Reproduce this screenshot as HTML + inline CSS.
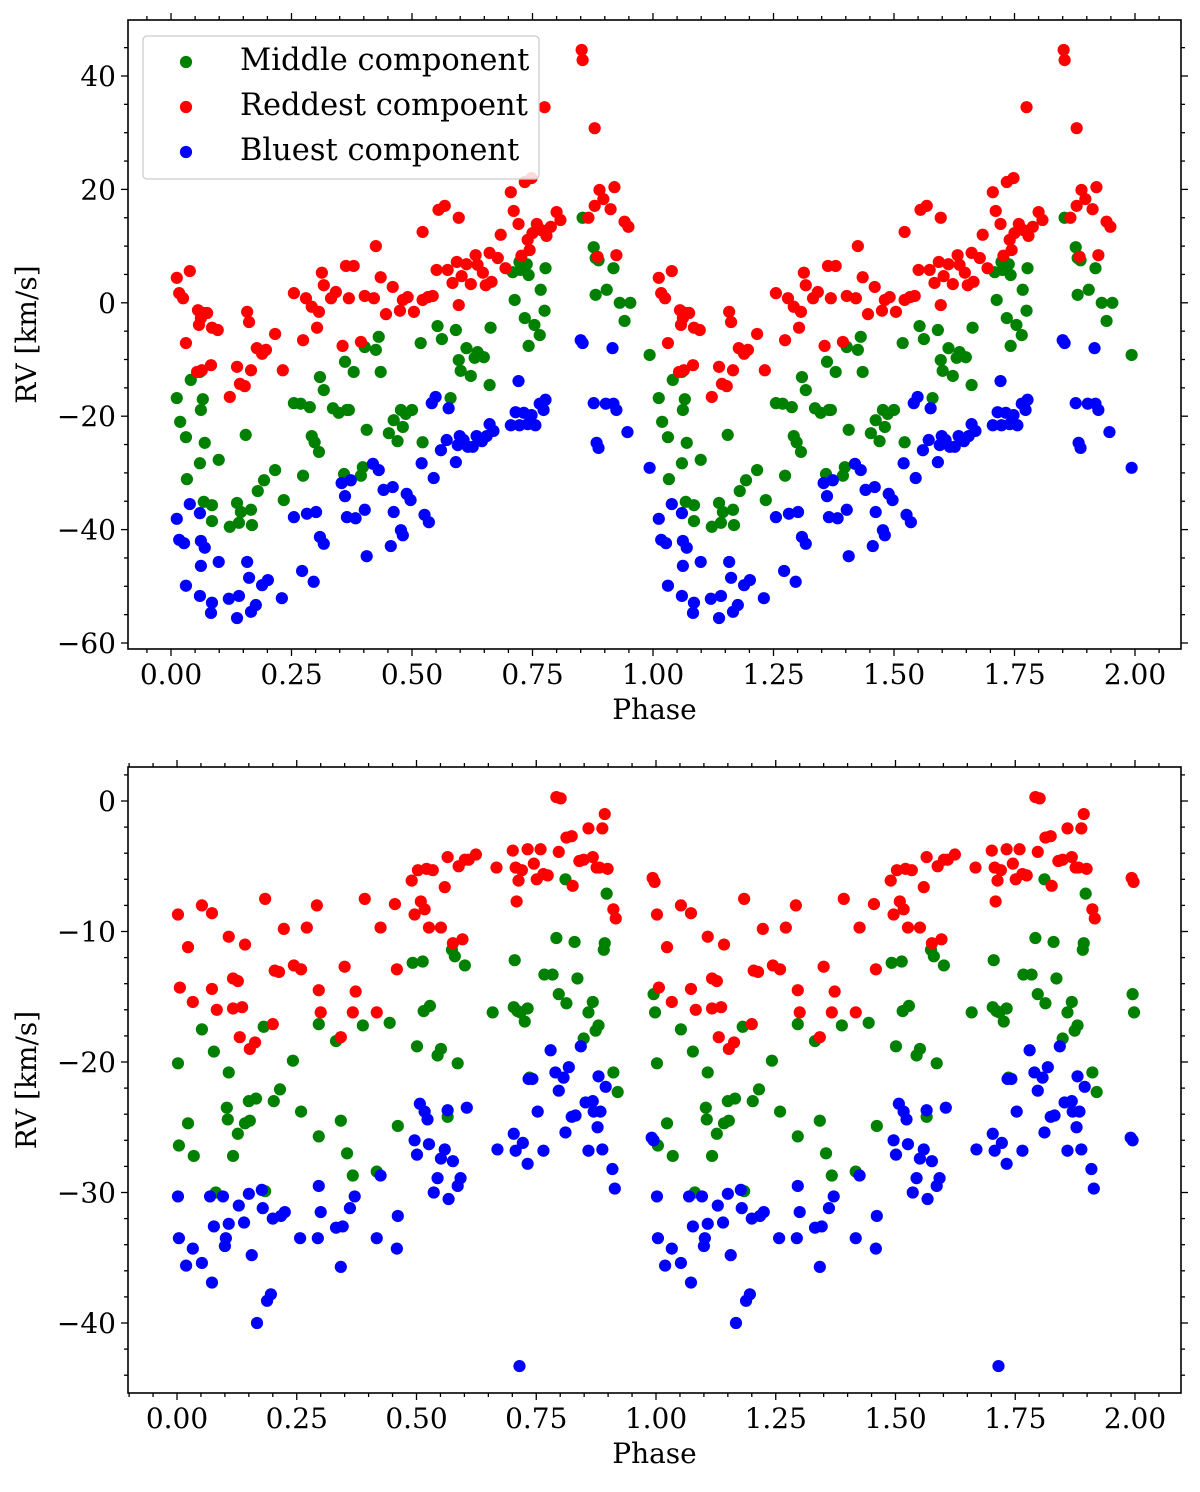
<!DOCTYPE html>
<html><head><meta charset="utf-8"><style>
body{margin:0;background:#fff;}
svg text{font-family:"DejaVu Serif","Liberation Serif",serif;fill:#000;}
</style></head><body>
<svg id="chart" width="1200" height="1487" viewBox="0 0 1200 1487" xmlns="http://www.w3.org/2000/svg">
<g id="top"></g>
<g id="bot"></g>
</svg>
<script>
// ---- Top panel data (phase 0-1, repeated at phase+1) ----
const topRed = [[0.012,4.4],[0.017,1.7],[0.025,0.8],[0.039,5.6],[0.031,-7.1],[0.056,-1.3],[0.062,-2.7],[0.068,-1.8],[0.058,-3.9],[0.075,-1.8],[0.054,-12.2],[0.064,-11.9],[0.083,-11.0],[0.085,-4.4],[0.097,-4.8],[0.122,-16.6],[0.137,-11.3],[0.143,-14.3],[0.158,-1.6],[0.162,-3.4],[0.153,-14.7],[0.166,-11.9],[0.178,-8.0],[0.189,-9.0],[0.197,-8.3],[0.216,-5.5],[0.232,-11.9],[0.255,1.7],[0.274,-6.6],[0.28,0.8],[0.292,-0.7],[0.303,-4.4],[0.307,-1.6],[0.313,5.3],[0.317,3.1],[0.332,0.8],[0.342,1.9],[0.356,-7.6],[0.363,6.5],[0.369,0.8],[0.379,6.5],[0.394,-6.9],[0.402,1.2],[0.421,0.8],[0.425,10.0],[0.435,4.5],[0.446,-2.0],[0.46,2.8],[0.475,-1.4],[0.481,0.5],[0.491,1.0],[0.504,-1.6],[0.522,12.5],[0.522,0.5],[0.533,1.0],[0.543,1.2],[0.551,5.8],[0.555,16.4],[0.568,17.1],[0.574,5.8],[0.584,3.5],[0.597,15.0],[0.593,7.2],[0.597,-0.4],[0.603,4.7],[0.613,6.8],[0.622,3.3],[0.632,8.4],[0.636,6.7],[0.647,5.3],[0.653,3.1],[0.661,8.8],[0.665,3.7],[0.678,7.9],[0.684,12.0],[0.694,6.1],[0.705,19.5],[0.711,16.2],[0.721,13.9],[0.727,8.3],[0.734,21.3],[0.74,11.1],[0.748,22.0],[0.744,9.3],[0.75,12.3],[0.759,13.9],[0.769,12.8],[0.775,34.5],[0.779,11.8],[0.788,13.4],[0.8,16.0],[0.808,14.6],[0.852,44.6],[0.854,42.8],[0.879,30.8],[0.866,15.0],[0.879,17.1],[0.889,19.9],[0.897,18.3],[0.912,16.5],[0.885,8.1],[0.92,20.4],[0.924,8.4],[0.941,14.3],[0.949,13.4]];
const topGreen = [[0.012,-16.8],[0.019,-21.0],[0.031,-23.7],[0.033,-31.1],[0.041,-13.6],[0.06,-12.2],[0.062,-18.9],[0.066,-17.0],[0.06,-28.3],[0.068,-35.1],[0.07,-24.7],[0.085,-35.7],[0.085,-38.5],[0.099,-27.7],[0.122,-39.5],[0.137,-35.3],[0.141,-38.8],[0.155,-23.3],[0.145,-36.9],[0.166,-36.5],[0.168,-39.2],[0.18,-33.2],[0.193,-31.3],[0.216,-29.5],[0.234,-34.8],[0.255,-17.7],[0.269,-17.8],[0.274,-30.5],[0.288,-18.4],[0.292,-23.5],[0.298,-24.6],[0.307,-26.3],[0.309,-13.1],[0.317,-15.4],[0.336,-18.6],[0.348,-19.4],[0.359,-30.2],[0.361,-10.4],[0.365,-18.9],[0.369,-18.9],[0.379,-12.2],[0.394,-30.5],[0.398,-29.0],[0.402,-7.8],[0.406,-22.4],[0.425,-8.3],[0.431,-6.0],[0.435,-12.2],[0.452,-23.0],[0.462,-20.7],[0.47,-24.4],[0.477,-18.9],[0.481,-21.9],[0.487,-19.6],[0.5,-18.9],[0.518,-7.1],[0.522,-24.6],[0.553,-4.1],[0.562,-6.4],[0.58,-16.8],[0.591,-4.8],[0.597,-10.1],[0.601,-12.0],[0.613,-8.0],[0.622,-12.9],[0.63,-9.7],[0.636,-8.7],[0.649,-9.6],[0.663,-4.4],[0.661,-14.5],[0.709,5.4],[0.713,0.5],[0.723,7.2],[0.725,5.8],[0.734,-2.7],[0.738,6.8],[0.742,4.9],[0.742,-7.6],[0.754,-3.9],[0.765,-5.7],[0.767,2.3],[0.777,6.1],[0.775,-1.4],[0.854,15.0],[0.877,9.8],[0.881,7.9],[0.881,1.4],[0.887,7.5],[0.904,2.3],[0.918,6.1],[0.931,0.0],[0.941,-3.2],[0.953,0.0],[0.993,-9.2]];
const topBlue = [[0.012,-38.1],[0.017,-41.8],[0.027,-42.4],[0.031,-49.9],[0.039,-35.5],[0.06,-37.1],[0.062,-42.0],[0.07,-43.2],[0.062,-46.4],[0.06,-51.7],[0.085,-52.9],[0.083,-54.7],[0.099,-45.7],[0.12,-52.2],[0.137,-55.6],[0.141,-51.7],[0.158,-45.7],[0.162,-48.5],[0.166,-54.5],[0.176,-53.3],[0.189,-49.8],[0.201,-48.9],[0.23,-52.1],[0.255,-37.8],[0.272,-47.3],[0.282,-37.2],[0.296,-49.2],[0.301,-36.9],[0.309,-41.3],[0.317,-42.5],[0.354,-31.8],[0.361,-34.1],[0.365,-37.8],[0.373,-31.3],[0.383,-38.0],[0.402,-36.5],[0.406,-44.7],[0.419,-28.4],[0.431,-29.5],[0.441,-33.0],[0.456,-42.9],[0.46,-32.5],[0.462,-36.9],[0.477,-40.1],[0.481,-41.0],[0.489,-33.7],[0.497,-34.8],[0.52,-28.3],[0.526,-37.4],[0.535,-38.7],[0.541,-17.7],[0.545,-30.9],[0.549,-16.6],[0.56,-26.0],[0.572,-24.2],[0.576,-18.6],[0.591,-28.1],[0.595,-25.1],[0.599,-23.5],[0.607,-24.2],[0.616,-25.4],[0.626,-25.4],[0.634,-23.5],[0.645,-24.4],[0.655,-23.5],[0.661,-21.4],[0.669,-22.6],[0.705,-21.6],[0.715,-19.3],[0.721,-13.8],[0.723,-21.6],[0.732,-19.4],[0.74,-21.4],[0.748,-19.8],[0.756,-21.6],[0.765,-17.8],[0.773,-18.9],[0.777,-17.1],[0.85,-6.6],[0.854,-7.1],[0.877,-17.7],[0.883,-24.7],[0.887,-25.6],[0.902,-17.8],[0.916,-8.0],[0.918,-17.8],[0.924,-18.9],[0.947,-22.8],[0.993,-29.1]];

// ---- Bottom panel data ----
const botRed = [[0.002,-8.7],[0.006,-14.3],[0.023,-11.2],[0.033,-15.4],[0.052,-8.0],[0.073,-8.6],[0.073,-14.4],[0.083,-16.0],[0.108,-10.4],[0.117,-13.6],[0.117,-15.9],[0.127,-13.8],[0.136,-15.8],[0.131,-18.1],[0.142,-11.0],[0.152,-19.0],[0.163,-18.5],[0.184,-7.5],[0.2,-17.1],[0.204,-13.0],[0.213,-13.1],[0.223,-9.8],[0.244,-12.6],[0.259,-12.9],[0.271,-9.7],[0.292,-8.0],[0.296,-14.5],[0.3,-16.2],[0.342,-18.1],[0.35,-12.7],[0.367,-16.2],[0.373,-14.6],[0.392,-7.5],[0.417,-16.2],[0.425,-9.7],[0.455,-7.9],[0.459,-12.9],[0.49,-6.1],[0.496,-8.7],[0.503,-5.3],[0.509,-7.7],[0.517,-8.3],[0.521,-5.2],[0.526,-9.7],[0.534,-5.3],[0.551,-9.7],[0.559,-6.6],[0.565,-4.3],[0.576,-10.9],[0.588,-5.0],[0.596,-10.6],[0.601,-4.5],[0.609,-4.5],[0.624,-4.1],[0.667,-5.1],[0.701,-3.8],[0.707,-5.1],[0.709,-7.7],[0.713,-6.1],[0.72,-5.3],[0.732,-3.7],[0.745,-4.8],[0.751,-6.0],[0.759,-3.7],[0.765,-5.6],[0.774,-5.7],[0.792,0.3],[0.801,0.2],[0.797,-3.9],[0.813,-2.8],[0.824,-2.7],[0.826,-6.5],[0.84,-4.6],[0.849,-4.5],[0.859,-2.1],[0.868,-4.3],[0.876,-5.1],[0.882,-5.1],[0.888,-2.1],[0.893,-1.0],[0.899,-5.2],[0.911,-8.3],[0.916,-9.0],[0.993,-5.9],[0.997,-6.2]];
const botGreen = [[0.002,-20.1],[0.004,-26.4],[0.023,-24.7],[0.035,-27.2],[0.052,-17.5],[0.077,-19.2],[0.081,-30.0],[0.104,-23.5],[0.106,-24.4],[0.108,-20.8],[0.117,-27.2],[0.127,-25.5],[0.142,-24.7],[0.15,-23.0],[0.152,-24.5],[0.165,-22.8],[0.181,-17.3],[0.184,-29.9],[0.202,-23.0],[0.215,-22.1],[0.242,-19.9],[0.259,-23.8],[0.296,-17.1],[0.296,-25.7],[0.332,-18.4],[0.342,-24.5],[0.355,-27.0],[0.367,-28.7],[0.388,-17.2],[0.417,-28.4],[0.444,-17.0],[0.461,-24.9],[0.492,-12.4],[0.501,-18.8],[0.513,-12.3],[0.515,-16.1],[0.528,-15.7],[0.544,-19.5],[0.551,-19.0],[0.565,-24.2],[0.574,-11.4],[0.58,-11.9],[0.586,-20.1],[0.601,-12.6],[0.659,-16.2],[0.703,-15.8],[0.705,-12.2],[0.711,-16.1],[0.717,-16.2],[0.726,-16.9],[0.732,-15.9],[0.736,-21.2],[0.767,-13.3],[0.784,-13.3],[0.792,-10.5],[0.797,-14.8],[0.811,-6.0],[0.813,-15.5],[0.83,-10.8],[0.836,-13.6],[0.849,-18.2],[0.859,-16.2],[0.868,-15.4],[0.874,-17.6],[0.88,-17.2],[0.891,-11.4],[0.893,-10.9],[0.897,-7.1],[0.911,-20.8],[0.92,-22.3],[0.995,-14.8],[0.998,-16.2]];
const botBlue = [[0.002,-30.3],[0.004,-33.5],[0.019,-35.6],[0.033,-34.3],[0.052,-35.4],[0.069,-30.3],[0.073,-36.9],[0.077,-32.6],[0.096,-30.3],[0.1,-34.1],[0.102,-33.5],[0.108,-32.4],[0.129,-31.0],[0.14,-32.3],[0.15,-30.1],[0.156,-34.8],[0.167,-40.0],[0.177,-29.8],[0.179,-31.2],[0.188,-38.3],[0.196,-37.8],[0.2,-32.0],[0.217,-31.8],[0.225,-31.5],[0.257,-33.5],[0.294,-33.5],[0.296,-29.5],[0.3,-31.5],[0.332,-32.7],[0.342,-35.7],[0.346,-32.6],[0.361,-31.2],[0.371,-30.3],[0.417,-33.5],[0.425,-28.7],[0.459,-34.3],[0.461,-31.8],[0.496,-26.0],[0.501,-27.1],[0.507,-23.2],[0.517,-23.8],[0.523,-24.4],[0.526,-26.3],[0.536,-30.0],[0.544,-28.9],[0.551,-27.4],[0.559,-26.7],[0.565,-23.7],[0.567,-30.5],[0.576,-27.6],[0.586,-29.5],[0.605,-23.5],[0.592,-28.9],[0.669,-26.7],[0.703,-25.5],[0.707,-26.8],[0.715,-43.3],[0.722,-26.2],[0.732,-27.8],[0.734,-21.3],[0.742,-21.3],[0.753,-23.8],[0.765,-26.8],[0.78,-19.1],[0.79,-20.8],[0.797,-22.2],[0.807,-21.2],[0.811,-25.4],[0.818,-20.4],[0.824,-24.2],[0.832,-24.1],[0.843,-18.8],[0.853,-23.1],[0.859,-26.8],[0.87,-23.8],[0.868,-23.0],[0.878,-25.0],[0.88,-21.1],[0.884,-23.8],[0.888,-26.7],[0.895,-21.9],[0.909,-28.2],[0.914,-29.7],[0.991,-25.8],[0.995,-26.0]];

const xTickLabels = ["0.00","0.25","0.50","0.75","1.00","1.25","1.50","1.75","2.00"];
const topYTicks = [40,20,0,-20,-40,-60];
const botYTicks = [0,-10,-20,-30,-40];
const legendLabels = ["Middle component","Reddest compoent","Bluest component"];

const NS = "http://www.w3.org/2000/svg";
function mk(parent, tag, attrs){
  const e = document.createElementNS(NS, tag);
  for (const k in attrs) e.setAttribute(k, attrs[k]);
  parent.appendChild(e);
  return e;
}
function fmt(v){ return (v<0?"\u2212":"") + Math.abs(v); }

function panel(g, cfg){
  const {L,R,T,B,x0,xs,y0,ys,yTicks,yMinorStep,yMin,yMax,series} = cfg;
  const X = p => x0 + p*xs;
  const Y = v => y0 - v*ys;
  series.forEach(s=>{
    const sg = mk(g,"g",{fill:s.color});
    
    
    [0,1].forEach(rep=>{
      s.data.forEach(d=>{
        const c = mk(sg,"circle",{cx:X(d[0]+rep),cy:Y(d[1]),r:6.1});
        
        
      });
    });
  });
  const frame = mk(g,"rect",{x:L,y:T,width:R-L,height:B-T,fill:"none",stroke:"#000","stroke-width":1.6});
  
  
  const tg = mk(g,"g",{stroke:"#000","stroke-width":1.3});
  
  
  for (let i=-2;i<=42;i++){
    const p=i*0.05, px=X(p);
    if (px<L||px>R) continue;
    const len = (i%5===0)?7:4;
    mk(tg,"line",{x1:px,x2:px,y1:B,y2:B+len});
    mk(tg,"line",{x1:px,x2:px,y1:T,y2:T-len});
  }
  xTickLabels.forEach((lab,i)=>{
    const t = mk(g,"text",{x:X(i*0.25),y:B+35,"font-size":28,"text-anchor":"middle"});
    t.textContent = lab;
    
    
  });
  for (let v=yMin; v<=yMax; v+=yMinorStep){
    const py=Y(v);
    if (py<T||py>B) continue;
    const major = yTicks.includes(v);
    const len = major?7:4;
    mk(tg,"line",{x1:L-len,x2:L,y1:py,y2:py});
    mk(tg,"line",{x1:R,x2:R+len,y1:py,y2:py});
  }
  yTicks.forEach(v=>{
    const t = mk(g,"text",{x:L-12,y:Y(v)+10,"font-size":28,"text-anchor":"end"});
    t.textContent = fmt(v);
    
    
  });
  const xl = mk(g,"text",{x:(L+R)/2,y:B+70,"font-size":28,"text-anchor":"middle"});
  xl.textContent="Phase";
  
  
  const yl = mk(g,"text",{x:0,y:0,"font-size":28,"text-anchor":"middle",transform:`translate(36,${(T+B)/2}) rotate(-90)`});
  yl.textContent="RV [km/s]";
  
  
}

const topG = document.getElementById("top");
panel(topG,{L:128,R:1181,T:20,B:649,x0:171,xs:482,y0:302.8,ys:5.67,yTicks:topYTicks,yMinorStep:5,yMin:-65,yMax:50,
  series:[{name:"middle-series",color:"#008000",data:topGreen},{name:"reddest-series",color:"#ff0000",data:topRed},{name:"bluest-series",color:"#0000ff",data:topBlue}]});
const botG = document.getElementById("bot");
panel(botG,{L:128,R:1181,T:767,B:1393,x0:177,xs:479,y0:801,ys:13.05,yTicks:botYTicks,yMinorStep:2,yMin:-46,yMax:2,
  series:[{name:"middle-series",color:"#008000",data:botGreen},{name:"reddest-series",color:"#ff0000",data:botRed},{name:"bluest-series",color:"#0000ff",data:botBlue}]});

const lg = mk(topG,"g",{});


mk(lg,"rect",{x:143,y:36,width:396,height:143,rx:4,fill:"#fff","fill-opacity":0.85,stroke:"#ccc","stroke-width":1.3});
const legColors = ["#008000","#ff0000","#0000ff"];
legendLabels.forEach((lab,i)=>{
  const e = mk(lg,"g",{});
  
  
  mk(e,"circle",{cx:186,cy:62+i*45,r:6.1,fill:legColors[i]});
  const t = mk(e,"text",{x:240,y:70+i*45,"font-size":30.5});
  t.textContent = lab;
});
</script>
</body></html>
